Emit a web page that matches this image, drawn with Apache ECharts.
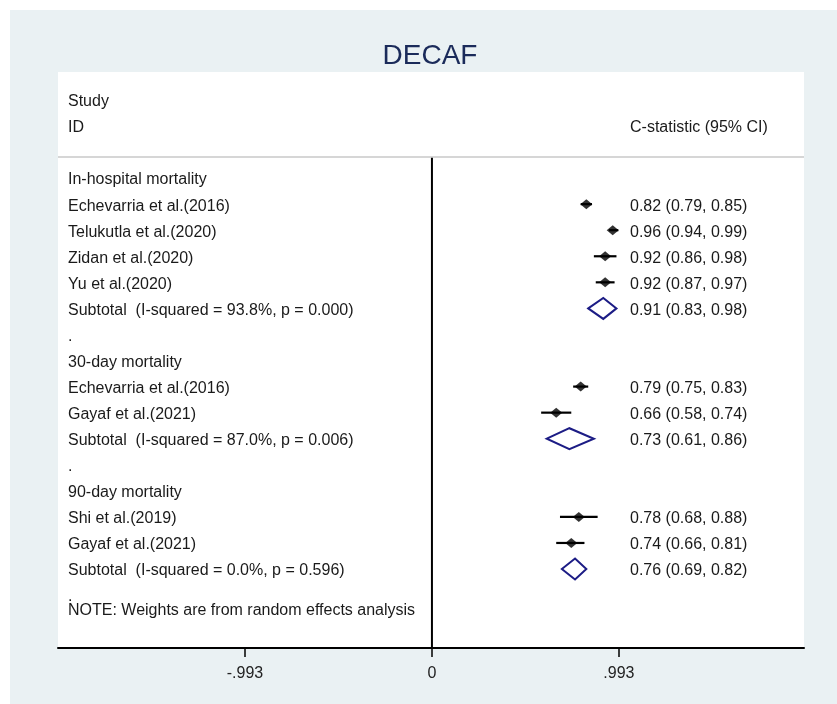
<!DOCTYPE html>
<html>
<head>
<meta charset="utf-8">
<script src="https://cdn.jsdelivr.net/npm/echarts@6/dist/echarts.min.js"></script>
<style>
  html, body { margin: 0; padding: 0; background: #fff; }
  #frame { position: absolute; left: 10px; top: 10px; width: 827px; height: 694px; }
</style>
</head>
<body>
<div id="frame"></div>
<script>
// forest plot values
const groupNames = ['In-hospital mortality', '30-day mortality', '90-day mortality'];
const studyNames = [
  'Echevarria et al.(2016)', 'Telukutla et al.(2020)', 'Zidan et al.(2020)', 'Yu et al.(2020)',
  'Echevarria et al.(2016)', 'Gayaf et al.(2021)',
  'Shi et al.(2019)', 'Gayaf et al.(2021)'
];
const studyGroup = [0, 0, 0, 0, 1, 1, 2, 2];
const studyEst = [0.82, 0.96, 0.92, 0.92, 0.79, 0.66, 0.78, 0.74];
const studyLow = [0.79, 0.94, 0.86, 0.87, 0.75, 0.58, 0.68, 0.66];
const studyHigh = [0.85, 0.99, 0.98, 0.97, 0.83, 0.74, 0.88, 0.81];
const subtotalLabels = [
  'Subtotal  (I-squared = 93.8%, p = 0.000)',
  'Subtotal  (I-squared = 87.0%, p = 0.006)',
  'Subtotal  (I-squared = 0.0%, p = 0.596)'
];
const subtotalEst = [0.91, 0.73, 0.76];
const subtotalLow = [0.83, 0.61, 0.69];
const subtotalHigh = [0.98, 0.86, 0.82];
const tickValues = [-0.993, 0, 0.993];
const tickLabels = ['-.993', '0', '.993'];
const noteText = 'NOTE: Weights are from random effects analysis';

const FONT = '"Liberation Sans", Arial, sans-serif';
const fmt = (v) => v.toFixed(2);
const ciText = (e, l, h) => `${fmt(e)} (${fmt(l)}, ${fmt(h)})`;

// lay out the rows (one row = one unit on the y axis)
let textRows = [
  { row: 0, left: 'Study', right: '' },
  { row: 1, left: 'ID', right: 'C-statistic (95% CI)' }
];
let studyRows = [];
let subtotalRows = [];
let r = 3;
groupNames.forEach((g, gi) => {
  textRows.push({ row: r++, left: g, right: '' });
  studyNames.forEach((name, i) => {
    if (studyGroup[i] !== gi) return;
    textRows.push({ row: r, left: name, right: ciText(studyEst[i], studyLow[i], studyHigh[i]) });
    studyRows.push([studyEst[i], r, studyLow[i], studyHigh[i]]);
    r++;
  });
  textRows.push({ row: r, left: subtotalLabels[gi], right: ciText(subtotalEst[gi], subtotalLow[gi], subtotalHigh[gi]) });
  subtotalRows.push([subtotalEst[gi], r, subtotalLow[gi], subtotalHigh[gi]]);
  r++;
  textRows.push({ row: r++, left: '.', right: '' });
});
textRows.push({ row: r - 0.5, left: noteText, right: '' });

const headerRule = 2.2;
const yMin = -1.07;
const yMax = 21.03;

const chart = echarts.init(document.getElementById('frame'));
chart.setOption({
  backgroundColor: '#eaf1f3',
  animation: false,
  title: {
    text: 'DECAF',
    left: 415,
    top: 27,
    textAlign: 'center',
    textStyle: { fontFamily: FONT, fontSize: 28, fontWeight: 'normal', color: '#1b2b5a' }
  },
  grid: {
    left: 48, right: 33, top: 62, bottom: 56,
    show: true, backgroundColor: '#ffffff', borderWidth: 0
  },
  xAxis: {
    type: 'value',
    min: -1.986,
    max: 1.976,
    splitLine: { show: false },
    axisLine: { show: true, onZero: false, lineStyle: { color: '#000', width: 2 } },
    axisTick: { show: true, customValues: tickValues, length: 9, lineStyle: { color: '#000', width: 1.5 } },
    axisLabel: {
      customValues: tickValues,
      margin: 18,
      fontFamily: FONT, fontSize: 16, color: '#222',
      formatter: (v) => tickLabels[tickValues.indexOf(v)] ?? ''
    }
  },
  yAxis: {
    type: 'value', inverse: true, min: yMin, max: yMax, show: false
  },
  series: [
    {
      // grey rule under the header and the zero line
      type: 'line',
      data: [[0, headerRule], [0, yMax]],
      symbol: 'none',
      lineStyle: { color: '#000', width: 2 },
      markLine: {
        silent: true, symbol: 'none', label: { show: false },
        lineStyle: { color: '#c8c8c8', width: 1.5, type: 'solid' },
        data: [{ yAxis: headerRule }]
      },
      z: 2
    },
    {
      // study confidence intervals
      type: 'custom',
      data: studyRows,
      renderItem: (params, api) => {
        const a = api.coord([api.value(2), api.value(1)]);
        const b = api.coord([api.value(3), api.value(1)]);
        return {
          type: 'line',
          shape: { x1: a[0], y1: a[1], x2: b[0], y2: b[1] },
          style: { stroke: '#000', lineWidth: 2.2 }
        };
      },
      z: 3
    },
    {
      // study point estimates
      type: 'scatter',
      data: studyRows.map(d => [d[0], d[1]]),
      symbol: 'diamond',
      symbolSize: [12, 10],
      itemStyle: { color: '#000' },
      z: 4
    },
    {
      // pooled subtotal diamonds
      type: 'custom',
      data: subtotalRows,
      renderItem: (params, api) => {
        const c = api.coord([api.value(0), api.value(1)]);
        const l = api.coord([api.value(2), api.value(1)]);
        const h = api.coord([api.value(3), api.value(1)]);
        const half = 10.5;
        return {
          type: 'polygon',
          shape: { points: [[l[0], c[1]], [c[0], c[1] - half], [h[0], c[1]], [c[0], c[1] + half]] },
          style: { fill: 'none', stroke: '#1c1c85', lineWidth: 2 }
        };
      },
      z: 4
    },
    {
      // left and right text columns
      type: 'custom',
      data: textRows.map((t, i) => [i, t.row]),
      renderItem: (params, api) => {
        const t = textRows[params.dataIndex];
        const cs = params.coordSys;
        const y = api.coord([0, api.value(1)])[1] + 2;
        const base = { fontFamily: FONT, fontSize: 16, fill: '#1a1a1a', textVerticalAlign: 'middle' };
        return {
          type: 'group',
          children: [
            { type: 'text', x: cs.x + 10, y: y, style: Object.assign({ text: t.left, textAlign: 'left' }, base) },
            { type: 'text', x: cs.x + cs.width - 174, y: y, style: Object.assign({ text: t.right, textAlign: 'left' }, base) }
          ]
        };
      },
      z: 5
    }
  ]
});
</script>
</body>
</html>
